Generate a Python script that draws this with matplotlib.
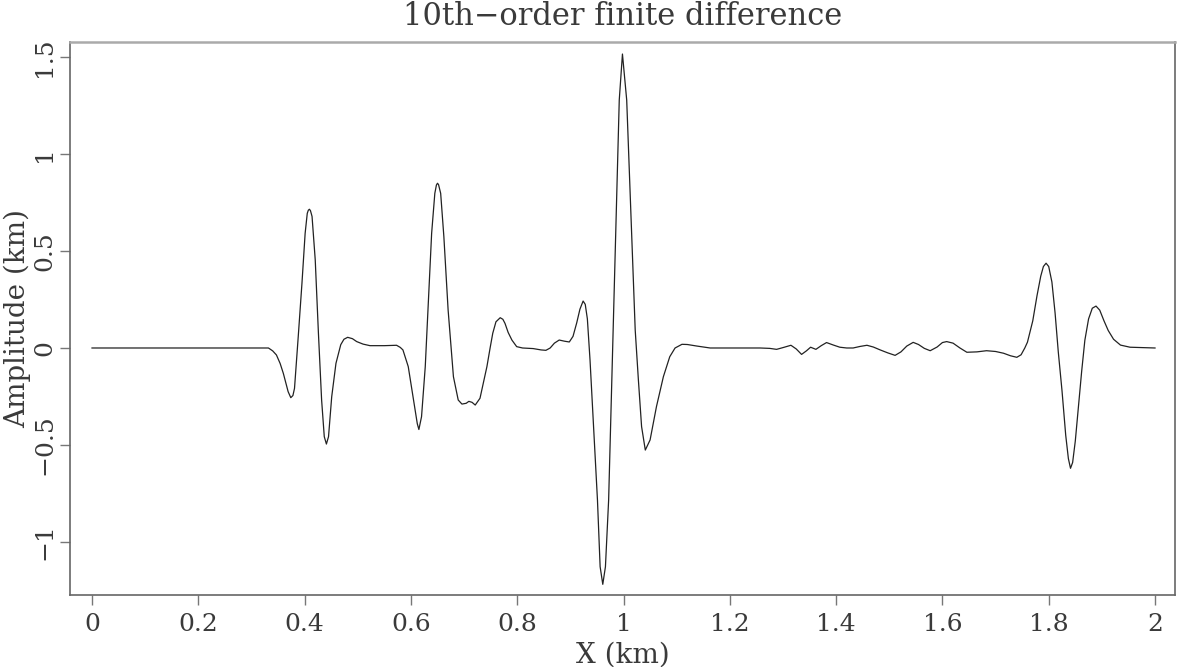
import matplotlib
matplotlib.use("Agg")
import matplotlib.pyplot as plt
import numpy as np

# Puntos (X en km, amplitud)
x_km = [
    0.0, 0.332, 0.340, 0.347, 0.354, 0.360, 0.369, 0.374, 0.378, 0.381, 0.388,
    0.395, 0.401, 0.405, 0.407, 0.409, 0.411, 0.414, 0.420, 0.426, 0.432,
    0.437, 0.441, 0.445, 0.451, 0.459, 0.468, 0.474, 0.481, 0.490, 0.498,
    0.510, 0.523, 0.550, 0.573, 0.580, 0.585, 0.595, 0.606, 0.612, 0.615,
    0.620, 0.627, 0.633, 0.639, 0.645, 0.648, 0.650, 0.652, 0.656, 0.662,
    0.670, 0.680, 0.689, 0.696, 0.704, 0.709, 0.715, 0.721, 0.730, 0.743,
    0.749, 0.754, 0.760, 0.768, 0.773, 0.777, 0.783, 0.790, 0.799, 0.810,
    0.830, 0.845, 0.854, 0.862, 0.870, 0.879, 0.889, 0.898, 0.905, 0.912,
    0.918, 0.924, 0.928, 0.932, 0.937, 0.951, 0.956, 0.961, 0.966, 0.972,
    0.980, 0.992, 0.998, 1.006, 1.022, 1.028, 1.034, 1.041, 1.050, 1.062,
    1.075, 1.087, 1.097, 1.110, 1.120, 1.138, 1.163, 1.257, 1.275, 1.288,
    1.300, 1.315, 1.325, 1.335, 1.344, 1.352, 1.362, 1.372, 1.382, 1.395,
    1.407, 1.420, 1.432, 1.445, 1.458, 1.470, 1.483, 1.497, 1.511, 1.522,
    1.533, 1.545, 1.555, 1.566, 1.577, 1.590, 1.600, 1.608, 1.620, 1.633,
    1.646, 1.665, 1.683, 1.700, 1.715, 1.728, 1.740, 1.748, 1.755, 1.760,
    1.770, 1.778, 1.785, 1.790, 1.795, 1.800, 1.806, 1.812, 1.818, 1.825,
    1.832, 1.837, 1.841, 1.845, 1.850, 1.856, 1.862, 1.868, 1.875, 1.882,
    1.889, 1.896, 1.904, 1.912, 1.922, 1.935, 1.953, 2.0,
]
amplitude = [
    0.0, 0.0, -0.015, -0.036, -0.080, -0.131, -0.225, -0.256, -0.245, -0.208, 0.058,
    0.333, 0.591, 0.694, 0.710, 0.715, 0.708, 0.678, 0.454, 0.076, -0.268,
    -0.457, -0.495, -0.457, -0.251, -0.079, 0.017, 0.045, 0.055, 0.048, 0.033,
    0.020, 0.012, 0.012, 0.014, 0.003, -0.010, -0.096, -0.285, -0.390, -0.420,
    -0.354, -0.096, 0.247, 0.591, 0.797, 0.840, 0.849, 0.842, 0.797, 0.574,
    0.196, -0.148, -0.268, -0.289, -0.285, -0.275, -0.280, -0.294, -0.259, -0.096,
    0.000, 0.076, 0.135, 0.156, 0.148, 0.127, 0.080, 0.041, 0.007, 0.000,
    -0.003, -0.010, -0.012, 0.000, 0.025, 0.041, 0.035, 0.031, 0.060, 0.130,
    0.200, 0.242, 0.225, 0.150, -0.062, -0.784, -1.127, -1.218, -1.127, -0.784,
    0.040, 1.278, 1.515, 1.278, 0.093, -0.165, -0.405, -0.526, -0.474, -0.302,
    -0.148, -0.045, 0.000, 0.019, 0.018, 0.010, 0.000, 0.000, -0.002, -0.007,
    0.002, 0.014, -0.005, -0.033, -0.015, 0.004, -0.007, 0.012, 0.028, 0.015,
    0.004, 0.000, 0.000, 0.008, 0.014, 0.005, -0.010, -0.025, -0.038, -0.020,
    0.010, 0.029, 0.018, -0.002, -0.014, 0.005, 0.028, 0.033, 0.025, 0.000,
    -0.022, -0.020, -0.014, -0.018, -0.027, -0.040, -0.048, -0.035, 0.000, 0.030,
    0.140, 0.270, 0.370, 0.420, 0.437, 0.420, 0.340, 0.180, -0.020, -0.220,
    -0.450, -0.570, -0.620, -0.590, -0.480, -0.300, -0.120, 0.040, 0.150, 0.205,
    0.216, 0.195, 0.140, 0.090, 0.045, 0.015, 0.004, 0.0,
]

x_ticks = [0, 0.2, 0.4, 0.6, 0.8, 1.0, 1.2, 1.4, 1.6, 1.8, 2.0]
x_tick_labels = ["0", "0.2", "0.4", "0.6", "0.8", "1", "1.2", "1.4", "1.6", "1.8", "2"]
y_ticks = [-1, -0.5, 0, 0.5, 1, 1.5]
y_tick_labels = ["\u22121", "\u22120.5", "0", "0.5", "1", "1.5"]

plt.rcParams["font.family"] = ["DejaVu Serif"]
text_color = "#3a3a3a"

fig = plt.figure(figsize=(11.77, 6.67), dpi=100)
ax = fig.add_axes([70 / 1177, 72 / 667, 1105 / 1177, 553 / 667])

ax.plot(x_km, amplitude, color="#222222", linewidth=0.9)

ax.set_xlim(-0.0414, 2.0376)
ax.set_ylim(-1.273, 1.577)

ax.set_xticks(x_ticks)
ax.set_xticklabels(x_tick_labels, fontsize=18, color=text_color)
ax.set_yticks(y_ticks)
ax.set_yticklabels(y_tick_labels, fontsize=18, color=text_color,
                   rotation=90, va="center")
ax.tick_params(axis="x", direction="out", length=7, width=1, color="#777777", pad=6)
ax.tick_params(axis="y", direction="out", length=7, width=1, color="#777777", pad=3)

for lado in ["left", "bottom", "right"]:
    ax.spines[lado].set_color("#666666")
    ax.spines[lado].set_linewidth(1.2)
ax.spines["top"].set_color("#aaaaaa")
ax.spines["top"].set_linewidth(1.8)

ax.set_title("10th\u2212order finite difference", fontsize=22, color=text_color, pad=12)
ax.set_xlabel("X (km)", fontsize=20, color=text_color, labelpad=4)
ax.set_ylabel("Amplitude (km)", fontsize=20, color=text_color)
ax.yaxis.set_label_coords(-0.035, 0.5)

fig.savefig("out.png", dpi=100)
